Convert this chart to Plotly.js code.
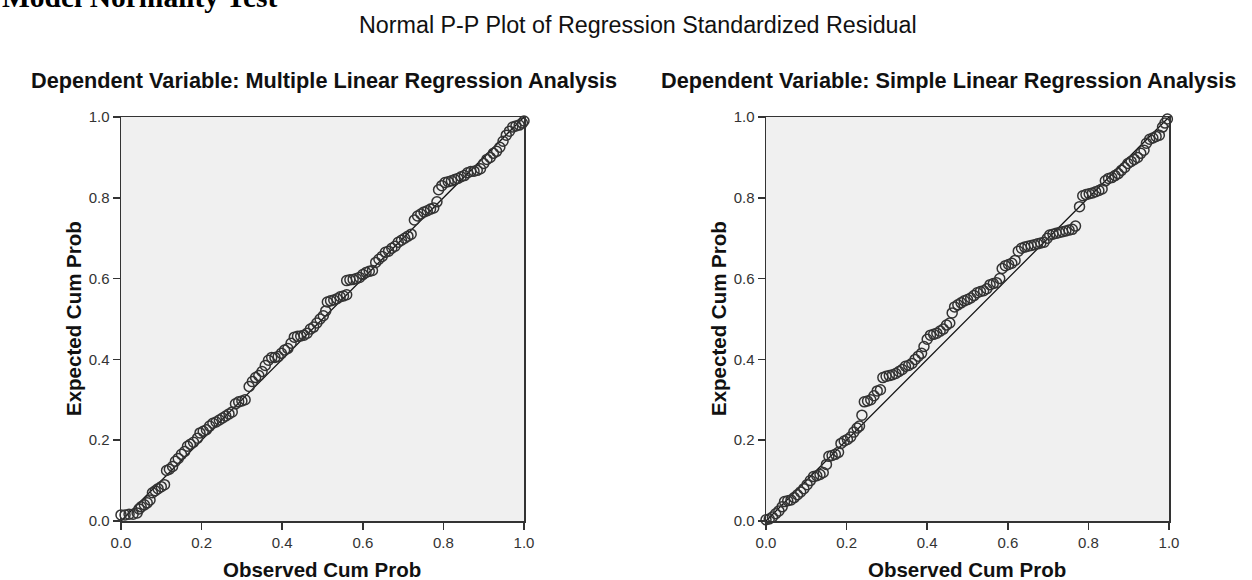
<!DOCTYPE html>
<html>
<head>
<meta charset="utf-8">
<script src="https://cdn.plot.ly/plotly-3.0.1.min.js"></script>
<style>html,body{margin:0;padding:0;background:#fff;}#chart{width:1252px;height:580px;}</style>
</head>
<body>
<div id="chart"></div>
<script>
// ---- Data ----
const mainTitle = "Normal P-P Plot of Regression Standardized Residual";
const headerText = "Model Normality Test";
const leftSubtitle = "Dependent Variable: Multiple Linear Regression Analysis";
const rightSubtitle = "Dependent Variable: Simple Linear Regression Analysis";
const xAxisLabel = "Observed Cum Prob";
const yAxisLabel = "Expected Cum Prob";
const tickValues = [0, 0.2, 0.4, 0.6, 0.8, 1.0];
const tickLabels = ["0.0", "0.2", "0.4", "0.6", "0.8", "1.0"];
const refLineX = [0, 1];
const refLineY = [0, 1];

const multObserved = [0.000,0.010,0.020,0.030,0.040,0.045,0.050,0.058,0.065,0.072,0.078,0.085,0.092,0.100,0.108,0.113,0.120,0.128,0.135,0.142,0.150,0.158,0.165,0.172,0.180,0.190,0.196,0.204,0.212,0.220,0.228,0.236,0.244,0.252,0.260,0.268,0.276,0.284,0.292,0.300,0.308,0.318,0.326,0.334,0.342,0.350,0.358,0.366,0.374,0.382,0.390,0.398,0.406,0.414,0.422,0.430,0.438,0.446,0.454,0.462,0.470,0.478,0.486,0.494,0.502,0.508,0.512,0.520,0.528,0.536,0.544,0.552,0.560,0.560,0.568,0.576,0.584,0.592,0.600,0.608,0.616,0.624,0.632,0.640,0.648,0.656,0.664,0.672,0.680,0.688,0.696,0.704,0.712,0.720,0.728,0.736,0.744,0.752,0.760,0.768,0.776,0.784,0.788,0.796,0.804,0.812,0.820,0.828,0.836,0.844,0.852,0.860,0.868,0.876,0.884,0.892,0.900,0.908,0.916,0.924,0.932,0.940,0.948,0.956,0.964,0.972,0.980,0.988,0.996,1.000];
const multExpected = [0.015,0.015,0.017,0.017,0.020,0.030,0.035,0.040,0.045,0.052,0.070,0.075,0.080,0.085,0.090,0.125,0.128,0.135,0.148,0.155,0.165,0.172,0.185,0.190,0.195,0.205,0.218,0.222,0.226,0.235,0.242,0.245,0.250,0.255,0.260,0.265,0.270,0.290,0.295,0.297,0.300,0.333,0.345,0.355,0.360,0.370,0.385,0.398,0.405,0.405,0.407,0.415,0.423,0.427,0.440,0.455,0.457,0.458,0.460,0.465,0.475,0.480,0.490,0.500,0.508,0.520,0.542,0.545,0.547,0.550,0.555,0.557,0.560,0.595,0.597,0.598,0.600,0.603,0.610,0.615,0.618,0.620,0.640,0.648,0.655,0.665,0.668,0.675,0.680,0.690,0.695,0.700,0.705,0.710,0.745,0.755,0.760,0.765,0.768,0.772,0.775,0.790,0.820,0.830,0.838,0.840,0.842,0.845,0.848,0.852,0.855,0.862,0.865,0.866,0.868,0.872,0.885,0.895,0.900,0.910,0.915,0.925,0.940,0.955,0.965,0.975,0.978,0.980,0.985,0.990];

const simpObserved = [0.000,0.008,0.016,0.024,0.032,0.040,0.046,0.054,0.062,0.070,0.078,0.086,0.094,0.102,0.110,0.118,0.126,0.134,0.142,0.150,0.156,0.164,0.172,0.180,0.186,0.194,0.202,0.210,0.218,0.226,0.232,0.238,0.244,0.252,0.260,0.268,0.276,0.284,0.290,0.298,0.306,0.314,0.322,0.330,0.338,0.346,0.354,0.362,0.370,0.378,0.386,0.392,0.400,0.408,0.416,0.424,0.432,0.440,0.448,0.456,0.462,0.468,0.476,0.484,0.492,0.500,0.508,0.516,0.524,0.532,0.540,0.548,0.556,0.564,0.572,0.580,0.586,0.594,0.602,0.610,0.618,0.626,0.634,0.642,0.650,0.658,0.666,0.674,0.682,0.690,0.698,0.704,0.712,0.720,0.728,0.736,0.744,0.752,0.760,0.768,0.778,0.786,0.794,0.802,0.810,0.818,0.826,0.834,0.842,0.850,0.858,0.866,0.874,0.882,0.890,0.898,0.906,0.914,0.922,0.930,0.938,0.944,0.952,0.960,0.968,0.976,0.984,0.990,0.996];
const simpExpected = [0.003,0.005,0.010,0.018,0.025,0.035,0.048,0.050,0.052,0.058,0.065,0.072,0.080,0.090,0.100,0.110,0.112,0.115,0.120,0.140,0.160,0.162,0.165,0.170,0.192,0.198,0.202,0.208,0.220,0.230,0.235,0.262,0.295,0.297,0.300,0.310,0.322,0.325,0.355,0.358,0.360,0.362,0.365,0.370,0.375,0.383,0.385,0.390,0.400,0.408,0.415,0.432,0.450,0.460,0.462,0.465,0.470,0.475,0.485,0.490,0.515,0.530,0.535,0.540,0.545,0.548,0.552,0.558,0.565,0.568,0.570,0.575,0.585,0.588,0.590,0.600,0.625,0.632,0.635,0.638,0.645,0.668,0.675,0.678,0.680,0.682,0.684,0.686,0.688,0.690,0.700,0.708,0.710,0.712,0.714,0.716,0.718,0.720,0.722,0.730,0.778,0.805,0.808,0.810,0.812,0.815,0.818,0.822,0.842,0.848,0.850,0.855,0.860,0.868,0.875,0.885,0.890,0.895,0.900,0.910,0.918,0.935,0.945,0.948,0.952,0.955,0.975,0.985,0.995];

// ---- Layout geometry (pixels) ----
const W = 1252, H = 580;
const px = v => v / W;
const py = v => 1 - v / H;

const markerStyle = {symbol: "circle-open", size: 10, color: "#333", line: {width: 1.5, color: "#333"}};
const lineStyle = {color: "#111", width: 1.3};

const traces = [
  {x: refLineX, y: refLineY, xaxis: "x", yaxis: "y", mode: "lines", line: lineStyle, hoverinfo: "skip"},
  {x: multObserved, y: multExpected, xaxis: "x", yaxis: "y", mode: "markers", marker: markerStyle, cliponaxis: false},
  {x: refLineX, y: refLineY, xaxis: "x2", yaxis: "y2", mode: "lines", line: lineStyle, hoverinfo: "skip"},
  {x: simpObserved, y: simpExpected, xaxis: "x2", yaxis: "y2", mode: "markers", marker: markerStyle, cliponaxis: false}
];

const tickFont = {family: "Liberation Sans, Arial, sans-serif", size: 15, color: "#333"};
function axisBase(extra) {
  return Object.assign({
    range: [0, 1], tickmode: "array", tickvals: tickValues, ticktext: tickLabels,
    ticks: "outside", ticklen: 7, tickwidth: 1.5, tickcolor: "#333",
    showline: true, mirror: true, linecolor: "#333", linewidth: 1.5,
    showgrid: false, zeroline: false, tickfont: tickFont, fixedrange: true
  }, extra);
}

const titleFont = {family: "Liberation Sans, Arial, sans-serif", size: 23.3, color: "#111"};
const subFont = {family: "Liberation Sans, Arial, sans-serif", size: 21.7, color: "#111"};
const axTitleFont = {family: "Liberation Sans, Arial, sans-serif", size: 20.5, color: "#111"};

const annotations = [
  {text: "<b>" + headerText + "</b>", xref: "paper", yref: "paper", x: 0, y: py(15), xanchor: "left", yanchor: "bottom", showarrow: false,
   font: {family: "Liberation Serif, Times New Roman, serif", size: 29.5, color: "#000"}},
  {text: mainTitle, xref: "paper", yref: "paper", x: px(638), y: py(25), xanchor: "center", yanchor: "middle", showarrow: false, font: titleFont},
  {text: "<b>" + leftSubtitle + "</b>", xref: "paper", yref: "paper", x: px(324), y: py(80), xanchor: "center", yanchor: "middle", showarrow: false, font: subFont},
  {text: "<b>" + rightSubtitle + "</b>", xref: "paper", yref: "paper", x: px(948), y: py(80), xanchor: "center", yanchor: "middle", showarrow: false, font: subFont},
  {text: "<b>" + xAxisLabel + "</b>", xref: "paper", yref: "paper", x: px(322), y: -3 / H, xanchor: "center", yanchor: "bottom", showarrow: false, font: axTitleFont},
  {text: "<b>" + xAxisLabel + "</b>", xref: "paper", yref: "paper", x: px(967), y: -3 / H, xanchor: "center", yanchor: "bottom", showarrow: false, font: axTitleFont},
  {text: "<b>" + yAxisLabel + "</b>", xref: "paper", yref: "paper", x: px(73), y: py(319), xanchor: "center", yanchor: "middle", showarrow: false, textangle: -90, font: axTitleFont},
  {text: "<b>" + yAxisLabel + "</b>", xref: "paper", yref: "paper", x: px(718), y: py(319), xanchor: "center", yanchor: "middle", showarrow: false, textangle: -90, font: axTitleFont}
];

const layout = {
  width: W, height: H,
  margin: {l: 0, r: 0, t: 0, b: 0},
  paper_bgcolor: "#ffffff",
  plot_bgcolor: "#f0f0f0",
  showlegend: false,
  xaxis: axisBase({domain: [px(121), px(524)], anchor: "y"}),
  yaxis: axisBase({domain: [py(521), py(117)], anchor: "x"}),
  xaxis2: axisBase({domain: [px(766), px(1169)], anchor: "y2"}),
  yaxis2: axisBase({domain: [py(521), py(117)], anchor: "x2"}),
  annotations: annotations
};

Plotly.newPlot("chart", traces, layout, {displayModeBar: false, staticPlot: true});
</script>
</body>
</html>
